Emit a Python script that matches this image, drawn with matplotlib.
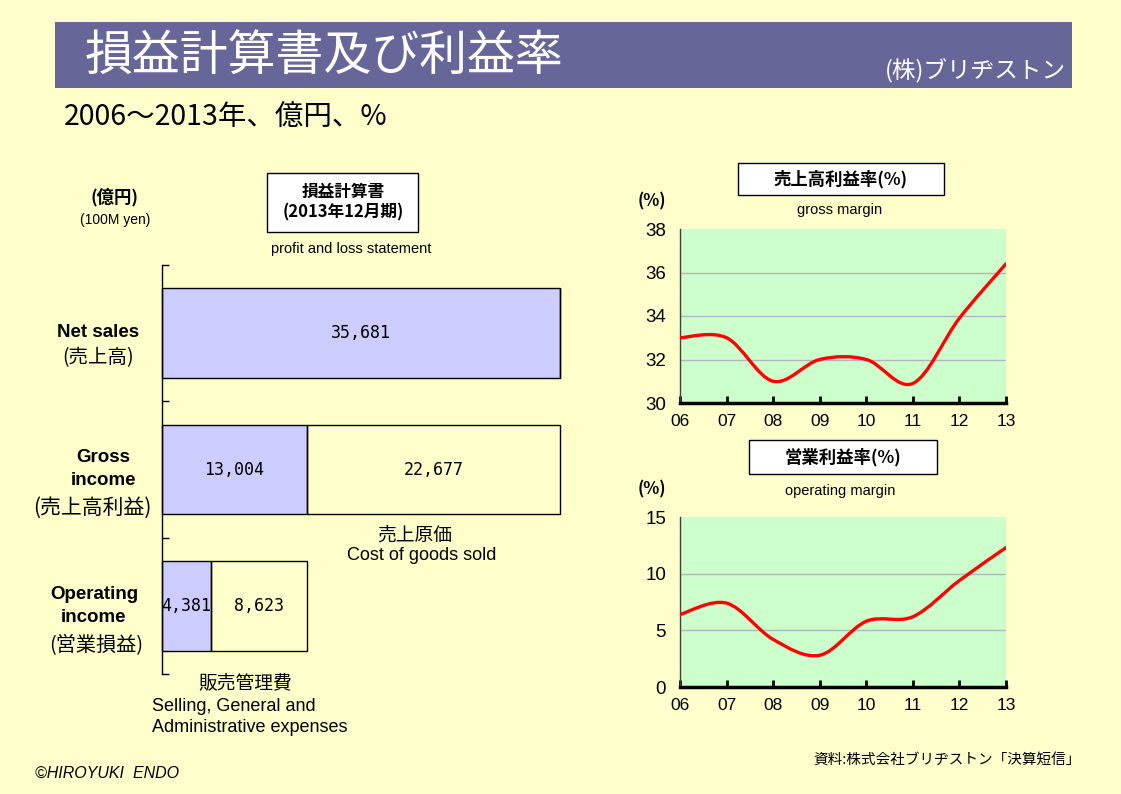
import numpy as np
import matplotlib.pyplot as plt
from matplotlib.patches import Rectangle, PathPatch
from matplotlib.path import Path

##Data
categories = ['Net sales', 'Gross income', 'Operating income']
first_part = [35681, 13004, 4381]      # purple segment
second_part = [0, 22677, 8623]         # white segment
first_labels = ['35,681', '13,004', '4,381']
second_labels = ['', '22,677', '8,623']

years = ['06', '07', '08', '09', '10', '11', '12', '13']
gross_margin = [33.0, 33.0, 31.0, 32.0, 32.0, 30.9, 33.9, 36.4]
operating_margin = [6.4, 7.4, 4.2, 2.8, 5.8, 6.2, 9.4, 12.3]

W, H = 1121, 794
BG = '#FFFFCC'
JP = ['Noto Sans CJK JP', 'DejaVu Sans']
EN = ['Liberation Sans', 'Noto Sans CJK JP']

plt.rcParams['font.family'] = JP

fig = plt.figure(figsize=(W / 100, H / 100), dpi=100)
fig.patch.set_facecolor(BG)


def fx(x):
    return x / W


def fy(y):
    return 1 - y / H


def box(x0, y0, x1, y1, fc='white', ec='black', lw=1.0):
    fig.patches.append(Rectangle((fx(x0), fy(y1)), fx(x1 - x0), (y1 - y0) / H,
                                 transform=fig.transFigure, fc=fc, ec=ec, lw=lw))


def smooth_line(ax, xs, ys, color='red', lw=2.4):
    # Catmull-Rom style smoothing drawn as bezier segments
    pts = np.column_stack([xs, ys]).astype(float)
    ext = np.vstack([pts[0], pts, pts[-1]])
    verts = [tuple(pts[0])]
    codes = [Path.MOVETO]
    for i in range(1, len(ext) - 2):
        p0, p1, p2, p3 = ext[i - 1], ext[i], ext[i + 1], ext[i + 2]
        c1 = p1 + (p2 - p0) / 6
        c2 = p2 - (p3 - p1) / 6
        verts += [tuple(c1), tuple(c2), tuple(p2)]
        codes += [Path.CURVE4] * 3
    ax.add_patch(PathPatch(Path(verts, codes), fill=False, ec=color, lw=lw,
                           capstyle='round', joinstyle='round', zorder=3))


##Title banner
box(55, 22, 1072, 88, fc='#666699', ec='none', lw=0)
fig.text(fx(85), fy(56), '損益計算書及び利益率', color='white', fontsize=34.5,
         va='center', ha='left')
fig.text(fx(1066), fy(70), '(株)ブリヂストン', color='white', fontsize=17,
         va='center', ha='right')
fig.text(fx(64), fy(118), '2006～2013年、億円、%', fontsize=20.5,
         va='center', ha='left')

##Bar chart (profit and loss statement)
axb = fig.add_axes([fx(162), fy(674), fx(560 - 162), (674 - 265) / H])
axb.set_facecolor('none')
ypos = [2.5, 1.5, 0.5]
b1 = axb.barh(ypos, first_part, height=0.66, color='#CCCCFF', edgecolor='black', lw=1)
b2 = axb.barh(ypos, second_part, left=first_part, height=0.66, color='none',
              edgecolor='black', lw=1)
for bar in list(b1) + list(b2):
    bar.set_clip_on(False)
for i in range(len(categories)):
    axb.text(first_part[i] / 2, ypos[i], first_labels[i], ha='center', va='center',
             fontsize=12, family='DejaVu Sans Mono')
    if second_labels[i]:
        axb.text(first_part[i] + second_part[i] / 2, ypos[i], second_labels[i],
                 ha='center', va='center', fontsize=12, family='DejaVu Sans Mono')
axb.set_xlim(0, first_part[0])
axb.set_ylim(0, 3)
for s in ['top', 'right', 'bottom']:
    axb.spines[s].set_visible(False)
axb.spines['left'].set_linewidth(1)
axb.set_xticks([])
axb.set_yticks([0, 1, 2, 3])
axb.set_yticklabels([])
axb.tick_params(axis='y', direction='in', length=5, width=1)

fig.text(fx(115), fy(197), '(億円)', fontsize=12.5, weight='bold', ha='center', va='center')
fig.text(fx(115), fy(220), '(100M yen)', fontsize=10, ha='center', va='center', family=EN)
box(267, 173, 418, 232)
fig.text(fx(343), fy(202), '損益計算書\n(2013年12月期)', fontsize=12, weight='bold',
         ha='center', va='center', linespacing=1.15)
fig.text(fx(351), fy(249), 'profit and loss statement', fontsize=10.5,
         ha='center', va='center', family=EN)

fig.text(fx(98), fy(333), 'Net sales', fontsize=13.5, weight='bold', ha='center',
         va='center', family=EN)
fig.text(fx(98), fy(358), '(売上高)', fontsize=14, ha='center', va='center')
fig.text(fx(103), fy(469), 'Gross\nincome', fontsize=13.5, weight='bold', ha='center',
         va='center', family=EN, linespacing=1.5)
fig.text(fx(92), fy(508), '(売上高利益)', fontsize=15, ha='center', va='center')
fig.text(fx(94), fy(606), 'Operating\nincome', fontsize=13.5, weight='bold', ha='center',
         va='center', family=EN, linespacing=1.5)
fig.text(fx(96), fy(646), '(営業損益)', fontsize=14.5, ha='center', va='center')

fig.text(fx(415), fy(535), '売上原価', fontsize=13.5, ha='center', va='center')
fig.text(fx(422), fy(556), 'Cost of goods sold', fontsize=13, ha='center',
         va='center', family=EN)
fig.text(fx(245), fy(683), '販売管理費', fontsize=13.5, ha='center', va='center')
fig.text(fx(152), fy(717), 'Selling, General and\nAdministrative expenses', fontsize=13,
         ha='left', va='center', family=EN, linespacing=1.3)

fig.text(fx(35), fy(773), '©HIROYUKI  ENDO', fontsize=11.5, style='italic',
         ha='left', va='center', family=EN)
fig.text(fx(1081), fy(760), '資料:株式会社ブリヂストン「決算短信」', fontsize=10.5,
         ha='right', va='center')


##Line charts
def margin_chart(bottom, top, values, ylo, yhi, step):
    ax = fig.add_axes([fx(680), fy(bottom), fx(1006 - 680), (bottom - top) / H])
    ax.set_facecolor('#CCFFCC')
    xs = np.arange(len(years))
    smooth_line(ax, xs, values)
    ax.set_xlim(0, len(years) - 1)
    ax.set_ylim(ylo, yhi)
    ax.set_xticks(xs)
    ax.set_xticklabels(years, family=EN, fontsize=12.5)
    ax.set_yticks(np.arange(ylo, yhi + 0.1, step))
    ax.set_yticklabels([str(int(v)) for v in np.arange(ylo, yhi + 0.1, step)],
                       family=EN, fontsize=13.5)
    ax.yaxis.grid(True, color='#B4B4BE', lw=1)
    ax.get_ygridlines()[-1].set_visible(False)
    ax.set_axisbelow(True)
    ax.spines['top'].set_visible(False)
    ax.spines['right'].set_visible(False)
    ax.spines['left'].set_color('#404040')
    ax.spines['left'].set_linewidth(1)
    ax.spines['bottom'].set_linewidth(2.5)
    ax.tick_params(axis='x', direction='in', length=5, width=2, pad=8)
    ax.tick_params(axis='y', length=0, pad=10)
    return ax


margin_chart(403, 229, gross_margin, 30, 38, 2)
box(738, 163, 944, 195)
fig.text(fx(841), fy(179), '売上高利益率(%)', fontsize=12.5, weight='bold',
         ha='center', va='center')
fig.text(fx(652), fy(201), '(%)', fontsize=12, weight='bold', ha='center', va='center')
fig.text(fx(840), fy(210), 'gross margin', fontsize=10.5, ha='center', va='center',
         family=EN)

margin_chart(687, 517, operating_margin, 0, 15, 5)
box(749, 440, 937, 474)
fig.text(fx(843), fy(457), '営業利益率(%)', fontsize=12.5, weight='bold',
         ha='center', va='center')
fig.text(fx(652), fy(489), '(%)', fontsize=12, weight='bold', ha='center', va='center')
fig.text(fx(840), fy(491), 'operating margin', fontsize=10.5, ha='center', va='center',
         family=EN)

plt.savefig('out.png', dpi=100, facecolor=BG)
